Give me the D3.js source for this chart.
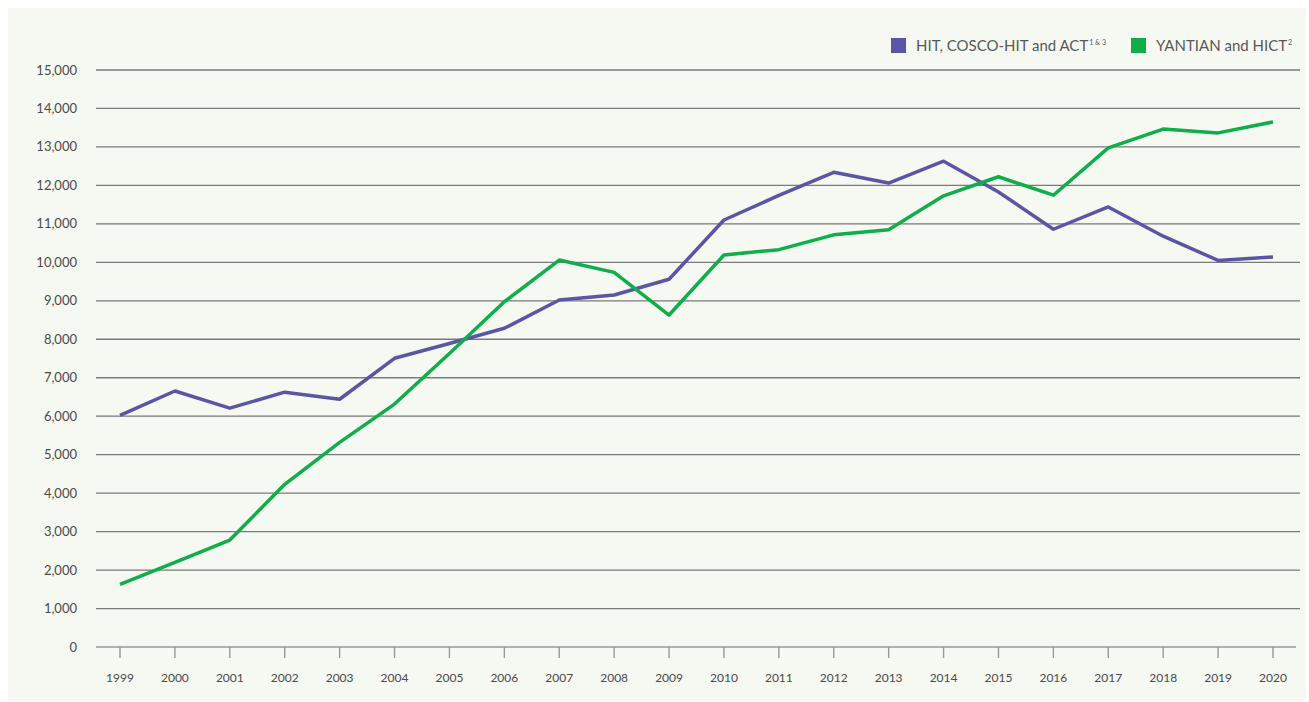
<!DOCTYPE html>
<html>
    <head>
        <meta charset="utf-8">
        <title>Throughput</title>
        <script type="text/javascript" src="https://d3js.org/d3.v7.min.js"></script>
        <style>
            body { margin: 0; background: #ffffff; }
            text { font-family: Lato, "Open Sans", sans-serif; fill: #4a4a4a; }
        </style>
    </head>
    <body>
        <script type="text/javascript">
            let years = ['1999', '2000', '2001', '2002', '2003', '2004', '2005', '2006', '2007', '2008', '2009',
                '2010', '2011', '2012', '2013', '2014', '2015', '2016', '2017', '2018', '2019', '2020'];
            let hit = [6020, 6655, 6210, 6625, 6440, 7505, 7890, 8285, 9020, 9150, 9560,
                11100, 11740, 12340, 12060, 12630, 11830, 10860, 11440, 10680, 10050, 10140];
            let yantian = [1630, 2200, 2780, 4230, 5320, 6315, 7630, 8975, 10060, 9740, 8630,
                10190, 10330, 10715, 10850, 11730, 12225, 11745, 12975, 13465, 13365, 13650];
            let yTicks = d3.range(0, 15001, 1000);
            let seriesNames = ['HIT, COSCO-HIT and ACT', 'YANTIAN and HICT'];
            let seriesSups = ['1 & 3', '2'];
            let colors = ['#5b55a5', '#10ad4b'];

            let width = 1309;
            let height = 702;

            let svg = d3.select('body')
                .append('svg')
                .attr('width', width)
                .attr('height', height);

            svg.append('rect')
                .attr('x', 8).attr('y', 8)
                .attr('width', 1298).attr('height', 693)
                .attr('fill', '#f6f8f2');

            let x = d3.scalePoint().domain(years).range([120, 1273]);
            let y = d3.scaleLinear().domain([0, 15000]).range([647, 70]);

            // grid lines + y labels
            let grid = svg.append('g');
            grid.selectAll('line')
                .data(yTicks)
                .enter()
                .append('line')
                    .attr('x1', 96)
                    .attr('x2', d => d === 0 ? 1296 : 1300)
                    .attr('y1', d => y(d))
                    .attr('y2', d => y(d))
                    .attr('stroke', d => d === 0 ? '#999' : '#7a7a7a')
                    .attr('stroke-width', d => d === 0 ? 1.6 : 1.3);

            grid.selectAll('text')
                .data(yTicks)
                .enter()
                .append('text')
                    .attr('x', 77)
                    .attr('y', d => y(d))
                    .attr('dy', '0.35em')
                    .attr('text-anchor', 'end')
                    .style('font-size', '13px')
                    .text(d => d3.format(',')(d));

            // x axis ticks
            let xAxis = svg.append('g');
            xAxis.selectAll('line')
                .data(years)
                .enter()
                .append('line')
                    .attr('x1', d => x(d))
                    .attr('x2', d => x(d))
                    .attr('y1', 647)
                    .attr('y2', 658)
                    .attr('stroke', '#999')
                    .attr('stroke-width', 1.4);
            xAxis.selectAll('text')
                .data(years)
                .enter()
                .append('text')
                    .attr('x', d => x(d))
                    .attr('y', 682)
                    .attr('text-anchor', 'middle')
                    .style('font-size', '12px')
                    .text(d => d);

            // lines
            let line = d3.line()
                .x((d, i) => x(years[i]))
                .y(d => y(d));

            [hit, yantian].forEach((s, i) => {
                svg.append('path')
                    .datum(s)
                    .attr('d', line)
                    .attr('fill', 'none')
                    .attr('stroke', colors[i])
                    .attr('stroke-width', 3.5)
                    .attr('stroke-linejoin', 'round');
            });

            // legend
            let legendX = [891, 1131];
            seriesNames.forEach((name, i) => {
                let g = svg.append('g').attr('transform', `translate(${legendX[i]}, 38)`);
                g.append('rect')
                    .attr('width', 15).attr('height', 15)
                    .attr('fill', colors[i]);
                let t = g.append('text')
                    .attr('x', 25)
                    .attr('y', 13)
                    .style('font-size', '15px')
                    .style('fill', '#585858');
                t.append('tspan').text(name);
                t.append('tspan')
                    .attr('dy', -6)
                    .attr('dx', 1)
                    .style('font-size', '7px')
                    .text(seriesSups[i]);
            });
        </script>
    </body>
</html>
